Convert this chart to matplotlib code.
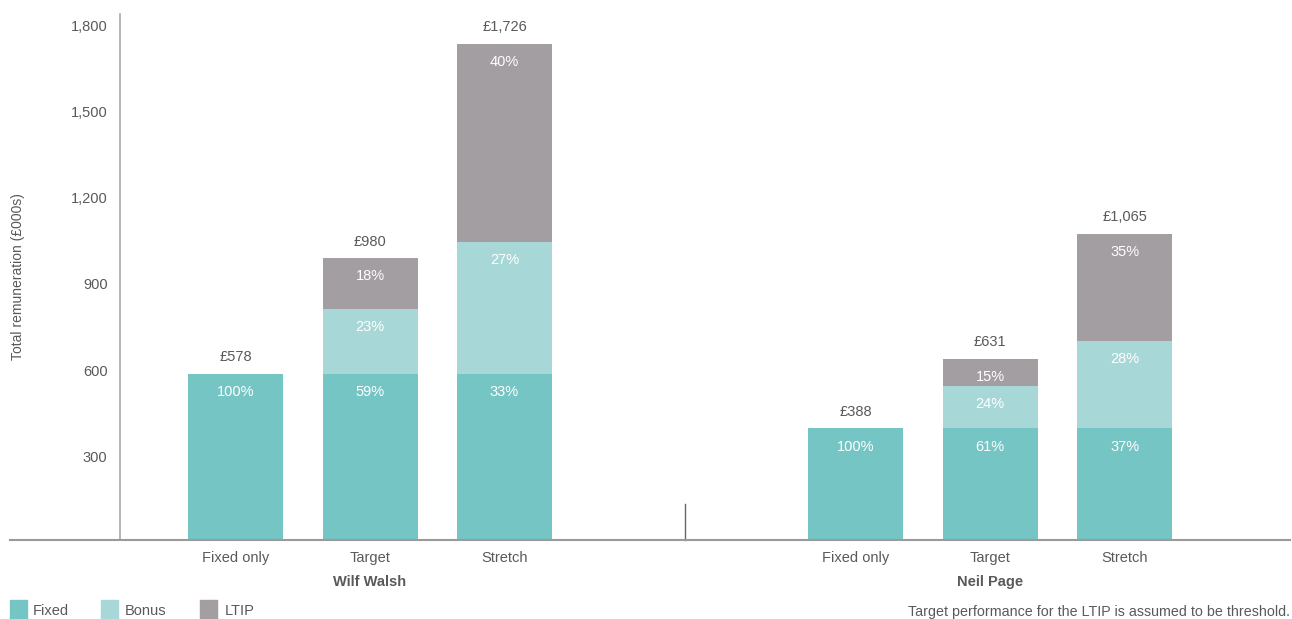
import matplotlib.pyplot as plt
import matplotlib.transforms as mtransforms
import numpy as np
from matplotlib.patches import Rectangle
from matplotlib.lines import Line2D

plt.rcParams['font.family'] = ['Liberation Sans', 'DejaVu Sans']

# DATA (£000s)
scenarios = ["Fixed only", "Target", "Stretch"]
people = ["Wilf Walsh", "Neil Page"]
fixed = [578, 578, 578, 388, 388, 388]
bonus = [0, 226, 458, 0, 148, 304]
ltip = [0, 176, 690, 0, 95, 373]
totals = ["£578", "£980", "£1,726", "£388", "£631", "£1,065"]
fixed_pct = ["100%", "59%", "33%", "100%", "61%", "37%"]
bonus_pct = ["", "23%", "27%", "", "24%", "28%"]
ltip_pct = ["", "18%", "40%", "", "15%", "35%"]
yticks = [300, 600, 900, 1200, 1500, 1800]

C_FIXED = "#76c5c5"
C_BONUS = "#a7d8d7"
C_LTIP = "#a39ea2"
TXT = "#58595b"

W, H = 1292, 619
fig = plt.figure(figsize=(W / 100, H / 100), dpi=100)
ax = fig.add_axes([120 / W, 1 - 540 / H, (1290 - 120) / W, (540 - 14) / H])

# bar positions: 3 per person, gap between groups
gap = 4.61
x = np.concatenate([np.arange(3), np.arange(3) + gap])
width = 0.706

fixed = np.array(fixed)
bonus = np.array(bonus)
ltip = np.array(ltip)

ax.bar(x, fixed, width, color=C_FIXED)
ax.bar(x, bonus, width, bottom=fixed, color=C_BONUS)
ax.bar(x, ltip, width, bottom=fixed + bonus, color=C_LTIP)

# percentage labels near top of each segment
tops = [fixed, fixed + bonus, fixed + bonus + ltip]
for labels, top in zip([fixed_pct, bonus_pct, ltip_pct], tops):
    for xi, t, lab in zip(x, top, labels):
        if lab:
            ax.annotate(lab, (xi, t), xytext=(0, -13), textcoords="offset points",
                        ha="center", va="center", color="white", fontsize=10.5)

# totals above bars
for xi, t, lab in zip(x, tops[2], totals):
    ax.annotate(lab, (xi, t), xytext=(0, 12), textcoords="offset points",
                ha="center", va="center", color=TXT, fontsize=10.5)

ax.set_xlim(-0.859, 7.84)
ax.set_ylim(0, 1830)
ax.set_yticks(yticks)
ax.set_yticklabels([f"{v:,}" for v in yticks])
ax.tick_params(axis="y", length=0, pad=9, labelsize=10.5, labelcolor=TXT)
shift = mtransforms.ScaledTranslation(0, -4 / 100, fig.dpi_scale_trans)
for lbl in ax.get_yticklabels():
    lbl.set_va("center")
    lbl.set_transform(lbl.get_transform() + shift)
ax.set_xticks(x)
ax.set_xticklabels(scenarios * 2)
ax.tick_params(axis="x", length=0, pad=8, labelsize=10.5, labelcolor=TXT)

for s in ["top", "right", "bottom"]:
    ax.spines[s].set_visible(False)
ax.spines["left"].set_color("#a8a8a8")
ax.spines["left"].set_linewidth(1.2)

# separator between the two people
ax.plot([3.342, 3.342], [0, 125], color="#666666", lw=1, clip_on=False)

# person names
for i, name in enumerate(people):
    ax.annotate(name, (x[i * 3 + 1], 0), xytext=(0, -30), textcoords="offset points",
                ha="center", va="center", color=TXT, fontsize=10.5, fontweight="bold")

ax.set_ylabel("Total remuneration (£000s)", color=TXT, fontsize=10)
ax.yaxis.set_label_coords(-95 / 1170, 0.5)

# baseline spanning the width of the figure
fig.add_artist(Line2D([10 / W, 1290 / W], [1 - 540 / H] * 2, color="#9a9a9a", lw=1.5))

# legend
for lx, tx, lab, col in [(10, 33, "Fixed", C_FIXED), (101, 125, "Bonus", C_BONUS),
                         (200, 225, "LTIP", C_LTIP)]:
    fig.add_artist(Rectangle((lx / W, 0), 17 / W, 19 / H, color=col, transform=fig.transFigure))
    fig.text(tx / W, 1 - 611 / H, lab, color=TXT, fontsize=10.5, va="center", ha="left")

fig.text(1290 / W, 1 - 612 / H, "Target performance for the LTIP is assumed to be threshold.",
         color=TXT, fontsize=10.25, va="center", ha="right")

fig.savefig("out.png", dpi=100)
